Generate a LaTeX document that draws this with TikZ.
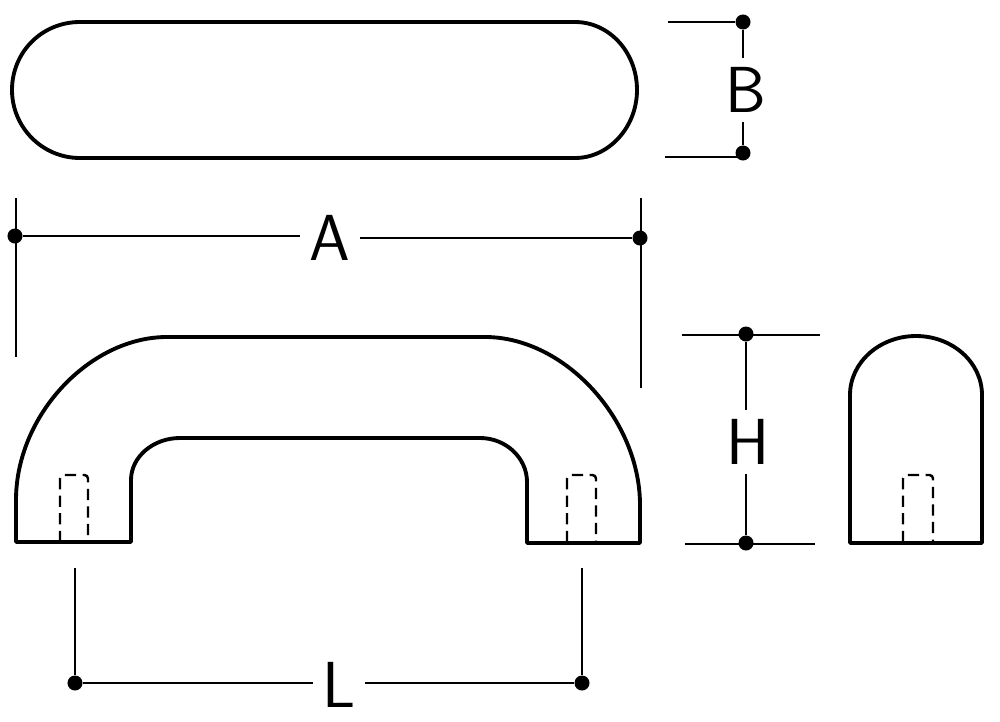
\documentclass[tikz,border=0pt]{standalone}
\usepackage{tikz}
\tikzset{
  outline/.style={line width=1.1pt,line join=round},
  hidden/.style={line width=0.7pt,dash pattern=on 3.2pt off 1.8pt,rounded corners=1pt},
  dimline/.style={line width=0.45pt},
  dimdot/.style={circle,fill=black,inner sep=0pt,minimum size=0.15cm},
  dimlabel/.style={inner sep=0.09cm,font=\fontsize{18.5}{20}\selectfont\sffamily}
}
\begin{document}
\begin{tikzpicture}[x=0.01cm,y=-0.01cm]
\useasboundingbox (0,0) rectangle (1000,721);

%Marking dimension points
\node [dimdot] (B1) at (743,22) {};
\node [dimdot] (B2) at (743,153) {};
\node [dimdot] (A1) at (15,236) {};
\node [dimdot] (A2) at (640,238) {};
\node [dimdot] (H1) at (746,334) {};
\node [dimdot] (H2) at (746,543) {};
\node [dimdot] (L1) at (75,683) {};
\node [dimdot] (L2) at (582,683) {};

%Marking labels
\node [dimlabel] (B) at (746,90) {B};
\node [dimlabel] (A) at (330,238) {A};
\node [dimlabel] (H) at (748,442) {H};
\node [dimlabel] (L) at (339,685) {L};

%Ends of extension lines
\coordinate (Be1) at (668,22);
\coordinate (Be2) at (665,157);
\coordinate (Be3) at (743,157);
\coordinate (Ae1) at (16,198);
\coordinate (Ae2) at (16,357);
\coordinate (Ae3) at (641,198);
\coordinate (Ae4) at (641,388);
\coordinate (He1) at (682,335);
\coordinate (He2) at (820,335);
\coordinate (He3) at (685,544);
\coordinate (He4) at (815,544);
\coordinate (Le1) at (75,568);
\coordinate (Le2) at (582,568);

%Drawing slot seen from above
\draw [outline] (80,22) -- (575,22) .. controls (609,22) and (637,52) .. (637,90)
  .. controls (637,127) and (609,158) .. (575,158) -- (80,158)
  .. controls (42,158) and (12,127) .. (12,90) .. controls (12,52) and (42,22) .. (80,22) -- cycle;

%Drawing handle
\draw [outline] (16,542) -- (16,500) .. controls (16,415) and (90,337) .. (167,337)
  -- (485,337) .. controls (565,337) and (640,420) .. (640,505) -- (640,543)
  -- (527,543) -- (527,482) .. controls (527,458) and (506,438) .. (480,438)
  -- (180,438) .. controls (153,438) and (131,457) .. (131,480) -- (131,542) -- cycle;
\draw [hidden] (60,542) -- (60,475) -- (88,475) -- (88,542);
\draw [hidden] (567,542) -- (567,475) -- (596,475) -- (596,542);

%Drawing end view
\draw [outline] (850,543) -- (850,395) .. controls (850,362) and (880,336) .. (916,336)
  .. controls (952,336) and (982,362) .. (982,395) -- (982,543) -- cycle;
\draw [hidden] (903,542) -- (903,475) -- (933,475) -- (933,542);

%Drawing dimension lines
\draw [dimline] (B1) -- (B1 |- B.north);
\draw [dimline] (B2) -- (B2 |- B.south);
\draw [dimline] (A1) -- (A1 -| A.west);
\draw [dimline] (A2) -- (A2 -| A.east);
\draw [dimline] (H1) -- (H1 |- H.north);
\draw [dimline] (H2) -- (H2 |- H.south);
\draw [dimline] (L1) -- (L1 -| L.west);
\draw [dimline] (L2) -- (L2 -| L.east);

%Drawing extension lines
\draw [dimline] (Be1) -- (B1);
\draw [dimline] (Be2) -- (Be3);
\draw [dimline] (Ae1) -- (Ae2);
\draw [dimline] (Ae3) -- (Ae4);
\draw [dimline] (He1) -- (He2);
\draw [dimline] (He3) -- (He4);
\draw [dimline] (Le1) -- (L1);
\draw [dimline] (Le2) -- (L2);
\end{tikzpicture}
\end{document}
